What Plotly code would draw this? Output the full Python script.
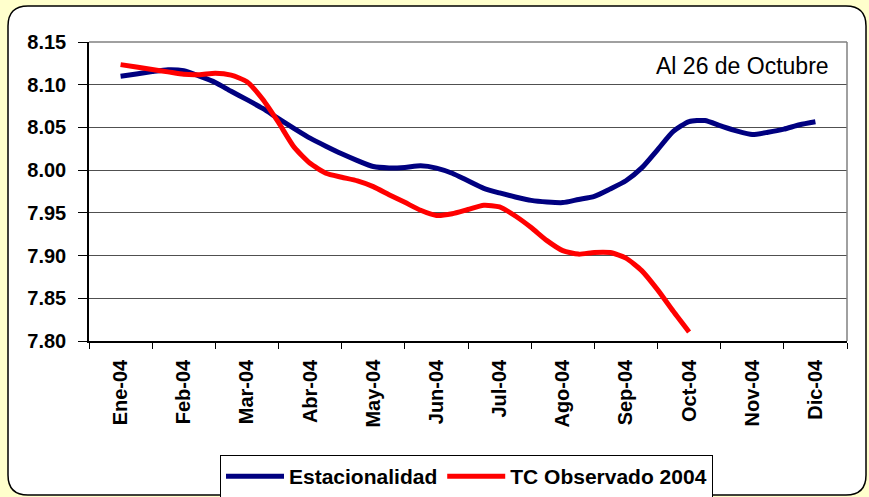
import plotly.graph_objects as go

# month labels (category centres at 0..11)
meses = ["Ene-04", "Feb-04", "Mar-04", "Abr-04", "May-04", "Jun-04",
         "Jul-04", "Ago-04", "Sep-04", "Oct-04", "Nov-04", "Dic-04"]

# values, one every quarter month starting at Ene-04
estacionalidad = [8.110, 8.1125, 8.1153, 8.1176, 8.1164, 8.110, 8.1027, 8.0923,
                  8.0825, 8.0722, 8.0602, 8.0486, 8.0374, 8.0280, 8.0191, 8.0112,
                  8.0042, 8.0026, 8.0032, 8.0050, 8.0024, 7.9963, 7.9875, 7.9787,
                  7.9733, 7.9686, 7.9646, 7.9627, 7.9620, 7.9657, 7.9693, 7.9780,
                  7.9876, 8.0026, 8.0238, 8.0453, 8.0568, 8.0580, 8.0519, 8.0460,
                  8.0417, 8.0444, 8.0480, 8.0531, 8.0566]

tc_observado = [8.1235, 8.1207, 8.1177, 8.1150, 8.1122, 8.1118, 8.1135, 8.1112,
                8.1035, 8.0830, 8.0558, 8.0266, 8.0080, 7.9964, 7.9917, 7.9874,
                7.9807, 7.9713, 7.9623, 7.9530, 7.9469, 7.9489, 7.9539, 7.9589,
                7.9569, 7.9463, 7.9328, 7.9175, 7.9058, 7.9017, 7.9037, 7.9035,
                7.8970, 7.8824, 7.8601, 7.8348, 7.8106]

x_est = [i / 4 for i in range(len(estacionalidad))]
x_tc = [i / 4 for i in range(len(tc_observado))]

W, H = 869, 497
ML, MR, MT, MB = 89, 22, 42, 156
PW, PH = W - ML - MR, H - MT - MB


def px(x):
    return (x - ML) / PW


def py(y):
    return (H - MB - y) / PH


def rounded_box(x0, y0, x1, y1, r):
    pts = [
        ("M", px(x0 + r), py(y0)), ("L", px(x1 - r), py(y0)),
        ("Q", px(x1), py(y0), px(x1), py(y0 + r)), ("L", px(x1), py(y1 - r)),
        ("Q", px(x1), py(y1), px(x1 - r), py(y1)), ("L", px(x0 + r), py(y1)),
        ("Q", px(x0), py(y1), px(x0), py(y1 - r)), ("L", px(x0), py(y0 + r)),
        ("Q", px(x0), py(y0), px(x0 + r), py(y0)),
    ]
    return " ".join(p[0] + " " + " ".join(f"{v:.5f}" for v in p[1:]) for p in pts) + " Z"


font = "Liberation Sans, Arial, sans-serif"

fig = go.Figure()
fig.add_trace(go.Scatter(x=x_est, y=estacionalidad, mode="lines", name="Estacionalidad",
                         line=dict(color="#000080", width=5, shape="spline", smoothing=0.6)))
fig.add_trace(go.Scatter(x=x_tc, y=tc_observado, mode="lines", name="TC Observado 2004",
                         line=dict(color="#FF0000", width=5, shape="spline", smoothing=0.6)))

fig.update_layout(
    width=W, height=H,
    margin=dict(l=ML, r=MR, t=MT, b=MB, autoexpand=False),
    paper_bgcolor="#FFFFCC",
    plot_bgcolor="white",
    font=dict(family=font, color="black"),
    showlegend=True,
    legend=dict(orientation="h", xref="container", yref="container",
                x=466.5 / W, xanchor="center", y=1 - 455 / H, yanchor="top",
                bgcolor="white", bordercolor="black", borderwidth=1,
                font=dict(size=21, weight="bold"), itemwidth=58,
                tracegroupgap=0),
    shapes=[
        dict(type="path", xref="paper", yref="paper", layer="below",
             path=rounded_box(8, 6, 866, 495, 20),
             fillcolor="white", line=dict(color="black", width=1.5)),
        dict(type="line", xref="paper", yref="paper", x0=0, x1=1, y0=1, y1=1,
             line=dict(color="#808080", width=1.5), layer="above"),
        dict(type="line", xref="paper", yref="paper", x0=1, x1=1, y0=0, y1=1,
             line=dict(color="#808080", width=1.5), layer="above"),
    ],
    annotations=[
        dict(text="Al 26 de Octubre", xref="paper", yref="paper",
             x=px(831), y=py(66), xanchor="right", yanchor="middle",
             showarrow=False, font=dict(size=23, family=font)),
    ],
)

fig.update_xaxes(
    range=[-0.5, 11.5], automargin=False,
    tickmode="array", tickvals=list(range(len(meses))), ticktext=meses,
    tickangle=-90, ticks="", ticklabelstandoff=9,
    tickfont=dict(size=20, weight="bold"),
    showgrid=False, zeroline=False,
    showline=True, linecolor="black", linewidth=1.5,
    minor=dict(tickmode="array", tickvals=[m - 0.5 for m in range(len(meses) + 1)],
               ticks="outside", ticklen=6, tickcolor="black", tickwidth=1, showgrid=False),
)
fig.update_yaxes(
    range=[7.80, 8.15], dtick=0.05, tickformat=".2f", automargin=False,
    ticks="outside", ticklen=9, tickcolor="black", tickwidth=1,
    ticklabelstandoff=8,
    tickfont=dict(size=20, weight="bold"),
    showgrid=True, gridcolor="#505050", gridwidth=1.2, zeroline=False,
    showline=True, linecolor="black", linewidth=1.5,
)

# the page body has a default 8px margin; drop it so the figure fills the window
fig.write_html("out.html", config={"displayModeBar": False},
               post_script="document.body.style.margin='0';document.body.style.overflow='hidden';")
